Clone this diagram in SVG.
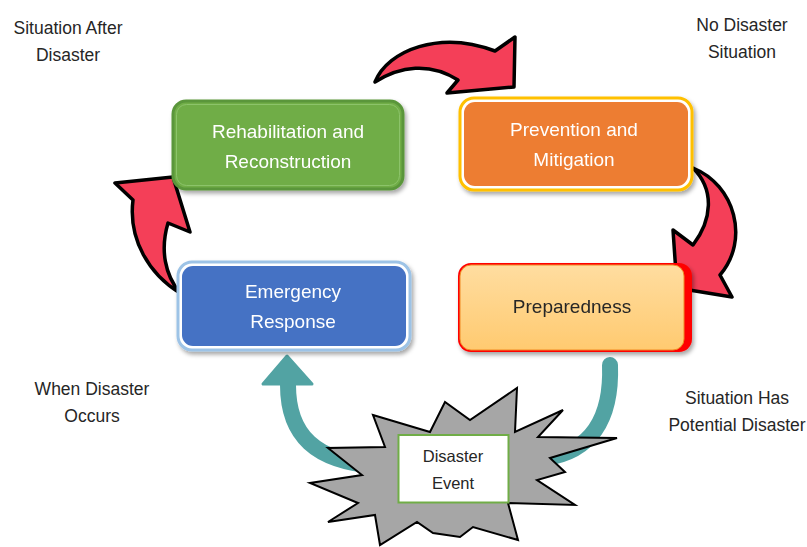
<svg xmlns="http://www.w3.org/2000/svg" width="807" height="547" viewBox="0 0 807 547">
  <defs>
    <filter id="shadow" x="-10%" y="-10%" width="125%" height="135%">
      <feDropShadow dx="2" dy="3" stdDeviation="2" flood-color="#000" flood-opacity="0.35"/>
    </filter>
    <linearGradient id="prepGrad" x1="0" y1="0" x2="0" y2="1">
      <stop offset="0" stop-color="#FFDDA0"/>
      <stop offset="1" stop-color="#FFCA70"/>
    </linearGradient>
  </defs>
  <style>
    .lbl { font-family: "Liberation Sans", Arial, sans-serif; font-size: 17.5px; fill: #262626; text-anchor: middle; }
    .boxtxt { font-family: "Liberation Sans", Arial, sans-serif; font-size: 19px; fill: #FFFFFF; text-anchor: middle; }
    .dark { fill: #262626; }
    .redArrow { fill: #F43F58; stroke: #000; stroke-width: 3.5; stroke-linejoin: round; }
    .teal { fill: none; stroke: #52A3A3; stroke-width: 16; }
  </style>
  <rect width="807" height="547" fill="#FFFFFF"/>

  <!-- corner labels -->
  <g id="labels">
    <text class="lbl" x="68" y="34">Situation After</text>
    <text class="lbl" x="68" y="61">Disaster</text>
    <text class="lbl" x="742" y="31">No Disaster</text>
    <text class="lbl" x="742" y="58">Situation</text>
    <text class="lbl" x="92" y="395">When Disaster</text>
    <text class="lbl" x="92" y="422">Occurs</text>
    <text class="lbl" x="737" y="404">Situation Has</text>
    <text class="lbl" x="737" y="431">Potential Disaster</text>
  </g>

  <!-- connectors -->
  <g id="connectors">
    <path class="redArrow" d="M375,82 C388,50 440,30 495,51 L515,37 L514,87 L447,93 L458,80 C430,62 400,66 375,82 Z"/>
    <path class="redArrow" d="M693,168 C735,185 750,240 720,275 L732,297 L677,288 L673,230 L693,245 C712,220 715,190 693,168 Z"/>
    <path class="redArrow" d="M180,293 C150,275 128,240 133,200 L115,183 L173,177 L190,232 L168,223 C160,250 165,275 180,293 Z"/>
    <path class="teal" d="M378,466 C315,462 288,435 288,385"/>
    <path d="M287,356 L263,384 L312,384 Z" fill="#52A3A3" stroke="#52A3A3" stroke-width="3" stroke-linejoin="round"/>
    <path class="teal" stroke-width="17" stroke-linecap="round" d="M610,365 C612,420 590,452 545,458"/>
  </g>

  <!-- Rehabilitation and Reconstruction -->
  <g id="rehabilitation" filter="url(#shadow)">
    <rect x="173" y="101" width="230" height="88" rx="13" fill="#70AD47" stroke="#5A963A" stroke-width="3"/>
    <rect x="176.5" y="104.5" width="223" height="81" rx="10" fill="none" stroke="#8CC36A" stroke-width="1"/>
    <text class="boxtxt" x="288" y="138">Rehabilitation and</text>
    <text class="boxtxt" x="288" y="168">Reconstruction</text>
  </g>

  <!-- Prevention and Mitigation -->
  <g id="prevention" filter="url(#shadow)">
    <rect x="460" y="98" width="232" height="92" rx="14" fill="#FFFFFF" stroke="#FFC000" stroke-width="3"/>
    <rect x="464" y="102" width="224" height="84" rx="11" fill="#ED7D31"/>
    <text class="boxtxt" x="574" y="136">Prevention and</text>
    <text class="boxtxt" x="574" y="166">Mitigation</text>
  </g>

  <!-- Emergency Response -->
  <g id="emergency" filter="url(#shadow)">
    <rect x="178" y="262" width="232" height="88" rx="14" fill="#FFFFFF" stroke="#9DC3E6" stroke-width="3"/>
    <rect x="182" y="266" width="224" height="80" rx="11" fill="#4472C4"/>
    <text class="boxtxt" x="293" y="298">Emergency</text>
    <text class="boxtxt" x="293" y="328">Response</text>
  </g>

  <!-- Preparedness -->
  <g id="preparedness" filter="url(#shadow)">
    <rect x="458" y="263" width="234" height="89" rx="13" fill="#FF0000"/>
    <rect x="460" y="265" width="224" height="85" rx="11" fill="url(#prepGrad)" stroke="#F08A24" stroke-width="1"/>
    <text class="boxtxt dark" x="572" y="313">Preparedness</text>
  </g>

  <!-- Disaster Event -->
  <g id="disaster">
    <polygon points="373,415 430,432 445,402 470,420 517,388 515,432 563,410 538,437 617,438 550,458 565,472 537,480 575,505 508,503 518,540 473,527 460,537 433,533 417,522 380,545 375,515 328,522 358,503 310,483 362,475 328,448 385,447" fill="#A6A6A6" stroke="#000" stroke-width="2" stroke-linejoin="miter"/>
    <rect x="398.5" y="435" width="110" height="67.5" fill="#FFFFFF" stroke="#70AD47" stroke-width="2"/>
    <text class="lbl" style="font-size:16.5px" x="453" y="462">Disaster</text>
    <text class="lbl" style="font-size:16.5px" x="453" y="489">Event</text>
  </g>
</svg>
